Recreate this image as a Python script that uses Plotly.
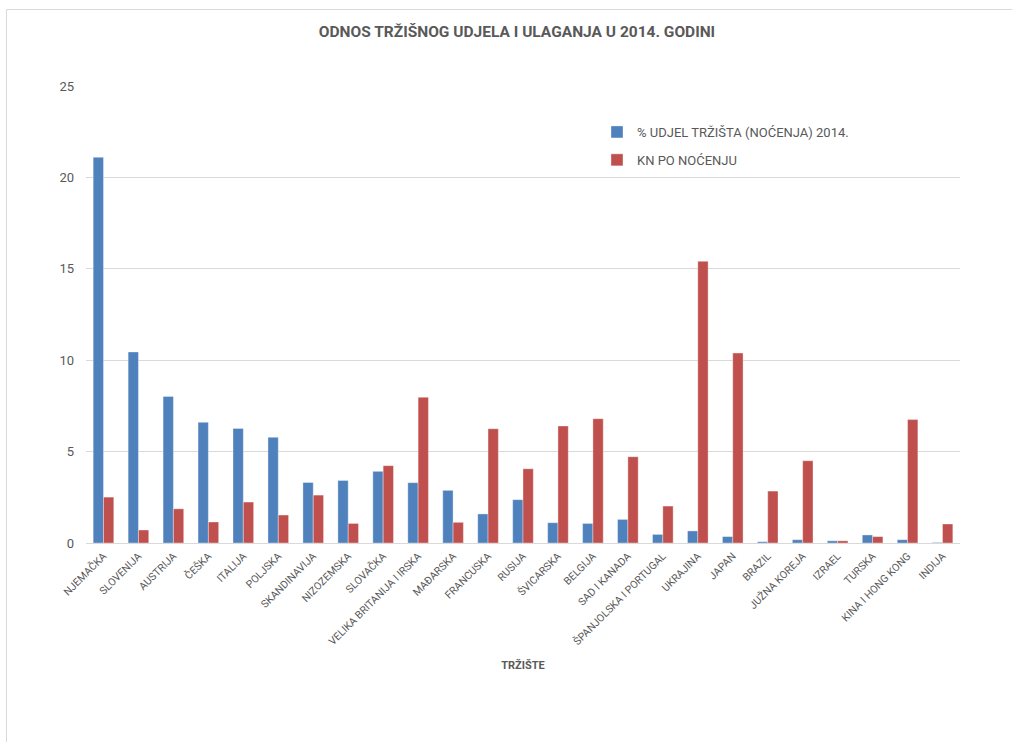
import plotly.graph_objects as go

# Tržišta (kategorije na osi x)
markets = [
    "NJEMAČKA", "SLOVENIJA", "AUSTRIJA", "ČEŠKA", "ITALIJA", "POLJSKA",
    "SKANDINAVIJA", "NIZOZEMSKA", "SLOVAČKA", "VELIKA BRITANIJA I IRSKA",
    "MAĐARSKA", "FRANCUSKA", "RUSIJA", "ŠVICARSKA", "BELGIJA", "SAD I KANADA",
    "ŠPANJOLSKA I PORTUGAL", "UKRAJINA", "JAPAN", "BRAZIL", "JUŽNA KOREJA",
    "IZRAEL", "TURSKA", "KINA I HONG KONG", "INDIJA",
]

# % udjel tržišta (noćenja) 2014.
market_share = [
    21.1, 10.45, 8.02, 6.6, 6.27, 5.78,
    3.31, 3.42, 3.92, 3.30,
    2.88, 1.59, 2.37, 1.11, 1.07, 1.29,
    0.47, 0.66, 0.35, 0.07, 0.18,
    0.12, 0.44, 0.18, 0.03,
]

# kn po noćenju
kn_per_night = [
    2.51, 0.71, 1.87, 1.15, 2.24, 1.53,
    2.62, 1.07, 4.23, 7.97,
    1.13, 6.25, 4.06, 6.40, 6.80, 4.72,
    2.02, 15.41, 10.39, 2.84, 4.50,
    0.12, 0.35, 6.75, 1.04,
]

y_ticks = [0, 5, 10, 15, 20, 25]

FONT = "Roboto, 'Open Sans', sans-serif"
GREY = "#595959"

fig = go.Figure()
fig.add_trace(go.Bar(
    x=markets, y=market_share, name="% UDJEL TRŽIŠTA (NOĆENJA) 2014.",
    marker=dict(color="#4F81BD", line=dict(color="rgba(255,255,255,0.6)", width=0.6)),
    legendgroup="a",
))
fig.add_trace(go.Bar(
    x=markets, y=kn_per_night, name="KN PO NOĆENJU",
    marker=dict(color="#C0504D", line=dict(color="rgba(255,255,255,0.6)", width=0.6)),
    legendgroup="b",
))

W, H = 1012, 742
ml, mr, mt, mb = 86, 52, 86, 199
pw, ph = W - ml - mr, H - mt - mb


def px_x(p):
    return (p - ml) / pw


def px_y(p):
    return (H - mb - p) / ph


fig.update_layout(
    width=W, height=H,
    margin=dict(l=ml, r=mr, t=mt, b=mb),
    paper_bgcolor="white", plot_bgcolor="white",
    barmode="group", bargap=0.41, bargroupgap=0,
    font=dict(family=FONT, color=GREY),
    title=dict(
        text="<b>ODNOS TRŽIŠNOG UDJELA I ULAGANJA U 2014. GODINI</b>",
        x=px_x(517), xref="paper", xanchor="center",
        y=1 - 32 / H, yref="container", yanchor="middle",
        font=dict(size=15.5, color=GREY, family=FONT),
    ),
    legend=dict(
        x=px_x(597), y=px_y(117), xanchor="left", yanchor="top",
        font=dict(size=13, color=GREY, family=FONT),
        traceorder="grouped", tracegroupgap=8,
        bgcolor="rgba(0,0,0,0)",
    ),
    xaxis=dict(
        tickangle=-45, tickfont=dict(size=10.5, color=GREY, family=FONT),
        showgrid=False, showline=False, ticks="", ticklabelstandoff=4,
        title=dict(text="<b>TRŽIŠTE</b>", font=dict(size=11, color=GREY, family=FONT),
                   standoff=14),
    ),
    yaxis=dict(
        range=[0, 25], tickvals=y_ticks, ticktext=[str(v) for v in y_ticks],
        tickfont=dict(size=13, color=GREY, family=FONT),
        showgrid=True, gridcolor="#D9D9D9", gridwidth=1,
        zeroline=True, zerolinecolor="#D9D9D9", zerolinewidth=1,
        showline=False, ticks="", ticklen=0, ticklabelstandoff=11,
    ),
    shapes=[dict(
        type="rect", xref="paper", yref="paper",
        x0=px_x(6.5), x1=px_x(1030), y0=px_y(760), y1=px_y(9.5),
        line=dict(color="#D9D9D9", width=1), fillcolor="rgba(0,0,0,0)",
        layer="below",
    )],
)

fig.write_html("out.html")
